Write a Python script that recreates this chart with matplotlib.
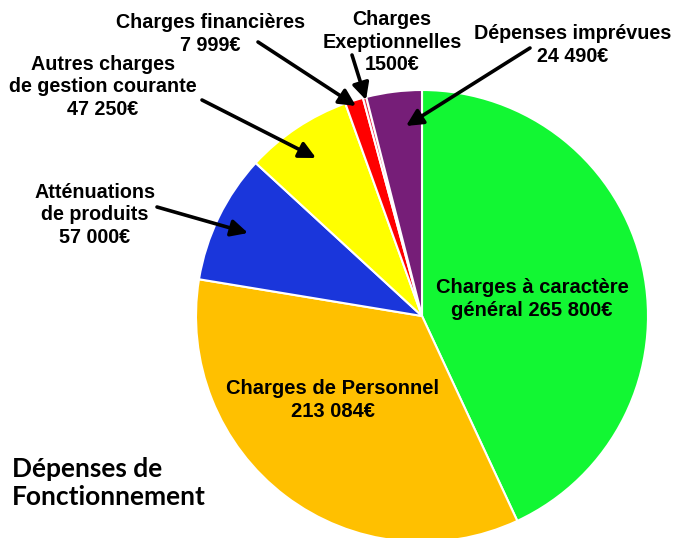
import matplotlib
matplotlib.use("Agg")
import matplotlib.pyplot as plt

categories = ["Charges à caractère\ngénéral 265 800€", "Charges de Personnel\n213 084€",
              "Atténuations\nde produits\n57 000€", "Autres charges\nde gestion courante\n47 250€",
              "Charges financières\n7 999€", "Charges\nExeptionnelles\n1500€",
              "Dépenses imprévues\n24 490€"]
values = [265800, 213084, 57000, 47250, 7999, 1500, 24490]
colors = ["#12F733", "#FFC000", "#1A36DB", "#FFFF00", "#FF0000", "#E8304A", "#761E78"]
title = "Dépenses de\nFonctionnement"

W, H = 678, 538
fig = plt.figure(figsize=(W / 100, H / 100), dpi=100)
ax = fig.add_axes([0, 0, 1, 1])

cx, cy, r = 422, H - 316, 226
ax.pie(values, colors=colors, startangle=90, counterclock=False,
       center=(cx, cy), radius=r, frame=True,
       wedgeprops=dict(edgecolor="white", linewidth=1.5))
ax.set_xlim(0, W)
ax.set_ylim(0, H)
ax.set_aspect("equal")
ax.axis("off")

bold_fam = ["Liberation Sans", "DejaVu Sans"]

def y(v):
    return H - v

# inner labels
ax.text(532, y(299), categories[0], ha="center", va="center", fontsize=14.5,
        fontweight="bold", family=bold_fam, linespacing=1.28)
ax.text(333, y(400), categories[1], ha="center", va="center", fontsize=14.5,
        fontweight="bold", family=bold_fam, linespacing=1.28)

# outer labels with arrows: (index, text x, text y, tail x, tail y, head x, head y)
outer = [
    (2, 95, 215, 157, 207, 248, 233),
    (3, 103, 87, 202, 100, 316, 158),
    (4, 210, 34, 258, 42, 356, 106),
    (5, 392, 42, 352, 55, 366, 100),
    (6, 573, 45, 530, 48, 406, 126),
]
for idx, tx, ty, ax0, ay0, hx, hy in outer:
    ax.text(tx, y(ty), categories[idx], ha="center", va="center", fontsize=14.2,
            fontweight="bold", family=bold_fam, linespacing=1.25)
    ax.annotate("", xy=(hx, y(hy)), xytext=(ax0, y(ay0)),
                arrowprops=dict(arrowstyle="-|>,head_length=1.0,head_width=0.5",
                                color="black", lw=2.6, shrinkA=0, shrinkB=0))

ax.text(12, y(483), title, ha="left", va="center", fontsize=19, fontweight="bold",
        family=["Lato", "Open Sans", "DejaVu Sans"], linespacing=1.22)

fig.savefig("out.png", dpi=100)
